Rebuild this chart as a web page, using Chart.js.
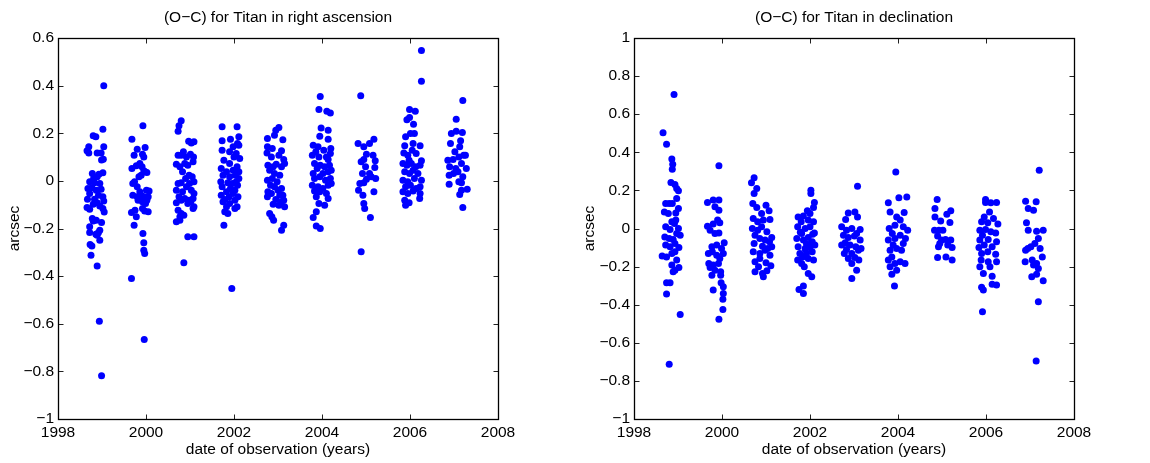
<!DOCTYPE html>
<html>
<head>
<meta charset="utf-8">
<script src="https://cdn.jsdelivr.net/npm/chart.js@4.4.1/dist/chart.umd.min.js"></script>
<style>
html,body{margin:0;padding:0;background:#fff;}
#wrap{display:flex;width:1150px;height:463px;}
.box{width:575px;height:463px;position:relative;}
</style>
</head>
<body>
<div id="wrap">
  <div class="box"><canvas id="ra" width="575" height="463"></canvas></div>
  <div class="box"><canvas id="dec" width="575" height="463"></canvas></div>
</div>
<script>
// ---- Titles / labels ----
const raTitle = "(O\u2212C) for Titan in right ascension";
const decTitle = "(O\u2212C) for Titan in declination";
const xLabel = "date of observation (years)";
const yLabel = "arcsec";

// ---- Tick labels ----
const yearTicks = [1998, 2000, 2002, 2004, 2006, 2008];
const raTicks = [-1, -0.8, -0.6, -0.4, -0.2, 0, 0.2, 0.4, 0.6];
const decTicks = [-1, -0.8, -0.6, -0.4, -0.2, 0, 0.2, 0.4, 0.6, 0.8, 1];

// ---- (O-C) in right ascension: [year, arcsec] ----
const raData = [
[1999.04,0.40],[1998.80,0.19],[1998.86,0.185],[1999.02,0.217],[1998.70,0.143],[1999.04,0.143],[1998.66,0.126],[1998.70,0.117],[1998.89,0.117],[1998.98,0.117],[1999.03,0.091],[1998.99,0.088],[1998.78,0.031],[1998.93,0.028],[1999.02,0.034],[1998.81,0.01],[1998.89,0.017],[1998.72,-0.004],[1998.83,-0.008],[1998.95,-0.011],[1998.68,-0.032],[1998.77,-0.029],[1998.87,-0.039],[1998.98,-0.035],[1998.72,-0.053],[1998.92,-0.06],[1999.02,-0.067],[1998.67,-0.077],[1998.83,-0.077],[1999.04,-0.084],[1998.89,-0.092],[1998.80,-0.098],[1998.95,-0.106],[1998.66,-0.112],[1998.72,-0.119],[1999.02,-0.116],[1999.05,-0.131],[1998.78,-0.158],[1998.87,-0.165],[1998.99,-0.175],[1998.80,-0.168],[1998.72,-0.193],[1998.95,-0.207],[1998.72,-0.217],[1998.92,-0.217],[1998.86,-0.224],[1998.89,-0.228],[1998.95,-0.249],[1998.73,-0.267],[1998.77,-0.273],[1998.75,-0.312],[1998.89,-0.357],[1998.94,-0.589],[1998.99,-0.818],
[1999.68,0.175],[1999.93,0.231],[1999.73,0.108],[1999.80,0.133],[1999.98,0.14],[1999.92,0.112],[1999.95,0.10],[1999.68,0.052],[1999.78,0.063],[1999.86,0.073],[1999.91,0.059],[1999.98,0.038],[2000.02,0.035],[1999.70,-0.011],[1999.74,-0.004],[1999.84,0.017],[1999.89,0.024],[1999.95,0.042],[1999.80,-0.025],[1999.86,-0.046],[2000.01,-0.039],[2000.07,-0.042],[1999.70,-0.06],[1999.80,-0.067],[1999.89,-0.06],[1999.95,-0.067],[2000.05,-0.067],[1999.82,-0.081],[1999.92,-0.088],[2000.02,-0.081],[1999.99,-0.095],[1999.67,-0.133],[1999.75,-0.123],[1999.78,-0.151],[1999.92,-0.116],[1999.97,-0.127],[2000.05,-0.13],[1999.73,-0.186],[1999.93,-0.221],[1999.95,-0.26],[1999.95,-0.291],[1999.97,-0.305],[1999.67,-0.41],[1999.96,-0.666],
[2000.80,0.252],[2000.75,0.231],[2000.73,0.208],[2000.97,0.166],[2001.09,0.164],[2001.03,0.159],[2000.85,0.122],[2000.73,0.108],[2000.92,0.10],[2000.80,0.108],[2001.01,0.112],[2001.08,0.10],[2000.69,0.07],[2000.77,0.059],[2000.88,0.073],[2000.95,0.066],[2001.07,0.08],[2000.83,0.038],[2000.98,0.024],[2001.05,0.017],[2000.90,0.01],[2001.09,-0.004],[2000.73,-0.011],[2000.80,-0.008],[2000.99,-0.011],[2000.92,-0.025],[2000.69,-0.039],[2000.83,-0.046],[2001.03,-0.039],[2001.09,-0.053],[2000.75,-0.067],[2000.88,-0.074],[2000.98,-0.081],[2000.80,-0.081],[2001.07,-0.074],[2000.69,-0.092],[2001.02,-0.088],[2000.95,-0.095],[2000.73,-0.123],[2000.80,-0.137],[2000.77,-0.151],[2000.86,-0.144],[2000.69,-0.172],[2000.77,-0.165],[2001.09,-0.109],[2001.07,-0.116],[2000.95,-0.235],[2001.09,-0.235],[2000.86,-0.344],
[2001.73,0.227],[2002.07,0.227],[2001.92,0.175],[2002.11,0.185],[2001.73,0.168],[2001.98,0.143],[2002.08,0.157],[2002.11,0.15],[2001.73,0.129],[2001.90,0.122],[2002.05,0.115],[2001.77,0.087],[2002.00,0.10],[2002.13,0.094],[2001.90,0.073],[2001.71,0.052],[2001.83,0.038],[2001.98,0.045],[2002.07,0.059],[2002.11,0.038],[2001.75,0.024],[2001.90,0.017],[2002.03,0.024],[2002.11,0.01],[2001.70,-0.004],[2001.86,-0.008],[2001.96,-0.011],[2002.08,-0.018],[2002.05,-0.004],[2001.73,-0.025],[2001.92,-0.032],[2002.02,-0.039],[2001.83,-0.046],[2001.71,-0.06],[2001.89,-0.067],[2001.98,-0.053],[2002.09,-0.067],[2001.79,-0.078],[2001.75,-0.088],[2002.02,-0.081],[2001.90,-0.095],[2002.07,-0.109],[2001.83,-0.109],[2001.86,-0.137],[2002.02,-0.116],[2001.79,-0.13],[2001.77,-0.186],[2001.95,-0.452],
[2002.76,0.178],[2002.92,0.192],[2003.02,0.224],[2002.95,0.213],[2003.11,0.173],[2002.76,0.143],[2002.87,0.136],[2003.08,0.126],[2002.75,0.117],[2002.85,0.10],[2003.02,0.108],[2003.13,0.09],[2003.15,0.073],[2002.77,0.066],[2002.89,0.059],[2002.96,0.07],[2003.08,0.059],[2002.81,0.045],[2002.92,0.031],[2003.04,0.024],[2002.76,0.003],[2002.98,-0.004],[2002.87,0.01],[2002.83,-0.018],[2002.92,-0.025],[2003.08,-0.032],[2003.00,-0.039],[2002.77,-0.046],[2002.85,-0.053],[2003.04,-0.06],[2003.11,-0.06],[2002.76,-0.067],[2002.95,-0.078],[2003.08,-0.088],[2002.89,-0.098],[2003.02,-0.102],[2003.15,-0.109],[2003.13,-0.081],[2002.81,-0.137],[2002.86,-0.151],[2002.90,-0.165],[2003.13,-0.186],[2003.08,-0.207],
[2003.96,0.354],[2003.93,0.30],[2004.11,0.292],[2004.19,0.285],[2003.98,0.222],[2004.14,0.213],[2003.95,0.187],[2004.14,0.175],[2003.80,0.15],[2003.91,0.143],[2004.04,0.129],[2004.20,0.136],[2003.86,0.122],[2003.78,0.108],[2003.93,0.10],[2004.10,0.10],[2004.19,0.115],[2004.14,0.09],[2003.83,0.073],[2003.96,0.066],[2004.06,0.059],[2004.17,0.066],[2003.89,0.052],[2003.80,0.031],[2004.02,0.031],[2004.14,0.038],[2004.21,0.045],[2003.83,0.01],[2003.95,0.017],[2004.08,0.003],[2004.19,0.01],[2003.78,-0.018],[2003.91,-0.025],[2004.02,-0.032],[2004.14,-0.018],[2004.21,-0.011],[2003.83,-0.042],[2003.95,-0.046],[2004.10,-0.053],[2003.87,-0.067],[2003.93,-0.095],[2004.06,-0.102],[2004.14,-0.074],[2003.87,-0.13],[2003.80,-0.154],[2003.87,-0.189],[2003.96,-0.20],
[2004.88,0.357],[2004.82,0.157],[2004.95,0.143],[2005.08,0.157],[2005.18,0.175],[2005.01,0.112],[2004.95,0.09],[2005.16,0.108],[2004.89,0.08],[2005.21,0.084],[2004.99,0.059],[2004.92,0.031],[2005.08,0.031],[2005.20,0.056],[2005.01,0.007],[2004.86,-0.011],[2004.95,-0.008],[2005.12,0.017],[2005.22,0.01],[2004.83,-0.039],[2004.93,-0.06],[2005.18,-0.046],[2004.95,-0.095],[2004.97,-0.116],[2005.10,-0.154],[2004.89,-0.298],
[2006.26,0.548],[2006.26,0.418],[2005.99,0.30],[2006.12,0.292],[2005.93,0.257],[2005.99,0.266],[2006.08,0.238],[2005.90,0.185],[2006.01,0.199],[2006.10,0.199],[2006.23,0.147],[2005.88,0.147],[2006.07,0.157],[2005.86,0.117],[2005.95,0.108],[2006.05,0.129],[2006.14,0.115],[2005.98,0.087],[2006.26,0.084],[2005.84,0.073],[2005.93,0.066],[2006.03,0.073],[2006.13,0.059],[2006.23,0.066],[2005.88,0.038],[2005.99,0.031],[2006.07,0.045],[2006.18,0.031],[2005.84,0.003],[2005.95,-0.004],[2006.10,0.01],[2006.26,0.003],[2005.90,-0.025],[2006.01,-0.018],[2006.14,-0.032],[2006.23,-0.025],[2005.84,-0.046],[2006.07,-0.042],[2005.95,-0.053],[2006.23,-0.053],[2005.88,-0.081],[2005.98,-0.092],[2005.90,-0.102],[2006.22,-0.074],
[2007.20,0.338],[2007.05,0.259],[2006.94,0.199],[2007.05,0.208],[2007.19,0.203],[2006.92,0.157],[2007.15,0.168],[2007.13,0.143],[2007.02,0.122],[2006.86,0.087],[2006.98,0.09],[2007.11,0.10],[2007.22,0.108],[2007.26,0.108],[2006.90,0.059],[2007.04,0.052],[2007.17,0.073],[2007.28,0.052],[2007.09,0.038],[2006.89,0.024],[2006.99,0.031],[2007.20,0.017],[2006.89,-0.014],[2007.11,-0.004],[2007.17,-0.008],[2007.30,-0.035],[2007.17,-0.039],[2007.13,-0.057],[2007.20,-0.112]
];

// ---- (O-C) in declination: [year, arcsec] ----
const decData = [
[1998.66,0.502],[1998.74,0.442],[1998.91,0.703],[1998.86,0.365],[1998.88,0.337],[1998.87,0.311],[1998.84,0.241],[1998.93,0.231],[1998.97,0.21],[1999.01,0.198],[1998.97,0.157],[1998.72,0.131],[1998.80,0.131],[1998.87,0.131],[1999.01,0.105],[1998.69,0.087],[1998.78,0.079],[1998.95,0.082],[1998.86,0.035],[1998.95,0.044],[1998.72,0.009],[1998.82,-0.005],[1999.01,0],[1998.92,0.026],[1998.70,-0.044],[1998.80,-0.052],[1998.89,-0.058],[1999.05,-0.035],[1998.97,-0.026],[1998.72,-0.087],[1998.82,-0.096],[1998.93,-0.079],[1999.02,-0.10],[1998.64,-0.145],[1998.74,-0.149],[1998.86,-0.131],[1998.93,-0.122],[1998.97,-0.166],[1998.86,-0.192],[1998.93,-0.219],[1999.02,-0.205],[1998.89,-0.227],[1998.74,-0.285],[1998.82,-0.285],[1998.74,-0.344],[1999.05,-0.451],[1998.80,-0.713],
[1999.93,0.329],[1999.67,0.136],[1999.80,0.149],[1999.93,0.149],[1999.84,0.114],[1999.93,0.096],[1999.67,0.012],[1999.80,0.023],[1999.90,0.044],[1999.95,0.03],[1999.73,-0.009],[1999.84,-0.026],[1999.93,-0.023],[2000.05,-0.075],[1999.77,-0.096],[1999.88,-0.087],[1999.99,-0.105],[1999.69,-0.131],[1999.78,-0.122],[1999.88,-0.14],[2000.03,-0.131],[1999.95,-0.157],[1999.70,-0.184],[1999.80,-0.192],[1999.92,-0.184],[1999.73,-0.205],[1999.84,-0.219],[1999.77,-0.245],[1999.97,-0.227],[1999.97,-0.245],[1999.98,-0.285],[2000.03,-0.306],[2000.03,-0.341],[1999.80,-0.323],[2000.02,-0.372],[2000.02,-0.425],[1999.93,-0.477],
[2000.73,0.267],[2000.67,0.24],[2000.79,0.21],[2000.73,0.184],[2000.70,0.131],[2000.79,0.11],[2001.00,0.122],[2000.90,0.079],[2001.07,0.093],[2000.71,0.052],[2000.81,0.035],[2000.94,0.044],[2001.09,0.047],[2000.69,0],[2000.81,-0.009],[2000.90,0.009],[2001.02,-0.017],[2001.13,-0.047],[2000.75,-0.035],[2000.86,-0.052],[2000.98,-0.061],[2001.08,-0.07],[2000.73,-0.079],[2000.92,-0.093],[2001.04,-0.105],[2001.13,-0.096],[2000.71,-0.122],[2000.86,-0.131],[2000.98,-0.114],[2001.09,-0.14],[2000.86,-0.157],[2001.00,-0.18],[2001.11,-0.196],[2000.75,-0.175],[2000.83,-0.201],[2000.92,-0.236],[2000.75,-0.227],[2000.94,-0.253],[2001.02,-0.222],
[2002.02,0.201],[2002.02,0.184],[2002.10,0.136],[2002.08,0.11],[2001.94,0.093],[2002.00,0.079],[2001.73,0.061],[2001.85,0.065],[2001.96,0.044],[2002.08,0.035],[2001.80,0.035],[2001.72,0.009],[2001.89,0],[2002.00,0.009],[2002.10,-0.023],[2001.81,-0.026],[2001.70,-0.052],[2001.85,-0.061],[2001.96,-0.047],[2002.05,-0.07],[2002.11,-0.087],[2001.73,-0.096],[2001.89,-0.105],[2002.00,-0.096],[2001.77,-0.131],[2001.92,-0.131],[2002.05,-0.122],[2001.72,-0.166],[2001.81,-0.184],[2001.96,-0.157],[2002.08,-0.166],[2001.87,-0.201],[2001.96,-0.236],[2002.04,-0.253],[2001.75,-0.32],[2001.85,-0.302],[2001.85,-0.341],[2001.78,-0.02],[2001.92,-0.08],[2001.83,-0.15],[2002.06,-0.03],[2001.90,-0.11],
[2003.08,0.222],[2002.87,0.082],[2003.02,0.086],[2003.08,0.061],[2002.81,0.047],[2002.72,0.009],[2002.83,-0.009],[2002.95,0],[2003.14,-0.005],[2003.06,-0.026],[2002.76,-0.035],[2002.87,-0.047],[2003.01,-0.04],[2003.14,-0.061],[2002.80,-0.075],[2002.72,-0.087],[2002.91,-0.087],[2003.04,-0.096],[2003.16,-0.105],[2002.83,-0.11],[2002.78,-0.131],[2002.95,-0.131],[2003.10,-0.114],[2002.87,-0.157],[2003.02,-0.152],[2003.11,-0.166],[2002.95,-0.184],[2003.06,-0.219],[2002.95,-0.262],
[2003.95,0.297],[2004.02,0.161],[2004.20,0.166],[2003.78,0.135],[2003.82,0.087],[2003.97,0.061],[2004.14,0.084],[2004.05,0.044],[2003.80,0],[2003.93,0.017],[2004.12,0.009],[2004.22,-0.009],[2003.87,-0.026],[2003.78,-0.061],[2003.93,-0.052],[2004.05,-0.035],[2004.17,-0.052],[2004.12,-0.079],[2003.89,-0.087],[2003.82,-0.114],[2003.97,-0.105],[2004.08,-0.114],[2003.86,-0.149],[2003.78,-0.166],[2003.93,-0.184],[2004.05,-0.175],[2004.16,-0.184],[2003.82,-0.201],[2003.97,-0.219],[2003.86,-0.24],[2003.92,-0.302],
[2004.89,0.152],[2004.84,0.105],[2005.11,0.075],[2005.20,0.093],[2004.97,0.04],[2005.18,0.031],[2004.84,0.061],[2004.83,-0.009],[2004.93,-0.009],[2005.02,-0.009],[2004.90,-0.04],[2004.99,-0.061],[2005.08,-0.058],[2005.20,-0.061],[2004.92,-0.096],[2005.13,-0.087],[2005.23,-0.10],[2004.95,-0.079],[2004.90,-0.152],[2005.09,-0.149],[2005.23,-0.166],
[2005.99,0.152],[2005.99,0.136],[2006.11,0.135],[2006.24,0.136],[2006.08,0.087],[2005.96,0.061],[2006.17,0.052],[2005.90,0.035],[2006.04,0.03],[2006.27,0.023],[2005.86,-0.009],[2005.99,-0.005],[2006.11,-0.017],[2006.22,-0.023],[2005.92,-0.035],[2005.86,-0.061],[2006.05,-0.058],[2006.24,-0.07],[2005.96,-0.087],[2006.14,-0.096],[2005.84,-0.10],[2005.90,-0.131],[2006.04,-0.122],[2006.22,-0.135],[2005.89,-0.166],[2006.05,-0.175],[2006.24,-0.175],[2005.86,-0.201],[2006.09,-0.201],[2005.94,-0.236],[2006.14,-0.25],[2005.90,-0.309],[2005.94,-0.323],[2006.14,-0.292],[2006.24,-0.297],[2005.92,-0.437],
[2006.90,0.143],[2007.14,0.14],[2006.96,0.105],[2007.08,0.096],[2006.92,0.03],[2006.96,-0.009],[2007.15,-0.014],[2007.30,-0.009],[2007.02,-0.096],[2006.90,-0.114],[2006.95,-0.105],[2007.19,-0.052],[2007.23,-0.105],[2007.11,-0.079],[2006.89,-0.175],[2007.05,-0.166],[2007.15,-0.184],[2007.28,-0.149],[2007.08,-0.192],[2007.19,-0.21],[2007.15,-0.24],[2007.04,-0.253],[2007.30,-0.274],[2007.19,-0.385],[2007.21,0.306],[2007.14,-0.696]
];

const FONT = "'Liberation Sans', Arial, Helvetica, sans-serif";
const FS = 15.5;

function fmtY(v){
  const r = Math.round(v * 10) / 10;
  if (r === 0) return "0";
  return (r < 0 ? "\u2212" : "") + String(Math.abs(r));
}

// Frame + inward MATLAB-style tick marks drawn from the library's scales
const framePlugin = {
  id: 'frame',
  afterDatasetsDraw(chart){
    const ctx = chart.ctx;
    const a = chart.chartArea;
    const xs = chart.scales.x, ys = chart.scales.y;
    const L = Math.round(a.left) + 0.5, R = Math.round(a.right) + 0.5;
    const T = Math.round(a.top) + 0.5, B = Math.round(a.bottom) + 0.5;
    const len = 5;
    ctx.save();
    ctx.strokeStyle = '#222';
    ctx.lineWidth = 1;
    ctx.beginPath();
    xs.ticks.forEach(t => {
      const p = Math.round(xs.getPixelForValue(t.value)) + 0.5;
      ctx.moveTo(p, B); ctx.lineTo(p, B - len);
      ctx.moveTo(p, T); ctx.lineTo(p, T + len);
    });
    ys.ticks.forEach(t => {
      const p = Math.round(ys.getPixelForValue(t.value)) + 0.5;
      ctx.moveTo(L, p); ctx.lineTo(L + len, p);
      ctx.moveTo(R, p); ctx.lineTo(R - len, p);
    });
    ctx.stroke();
    ctx.strokeStyle = '#000';
    ctx.lineWidth = 1.3;
    ctx.strokeRect(L, T, R - L, B - T);
    ctx.restore();
  }
};

function makeChart(id, title, data, yTicks, yMin, yMax, yWidth, padRight){
  return new Chart(document.getElementById(id), {
    type: 'scatter',
    data: {
      datasets: [{
        data: data.map(p => ({x: p[0], y: p[1]})),
        backgroundColor: '#0000ff',
        borderColor: '#0000ff',
        borderWidth: 0,
        pointRadius: 3.5,
        pointHoverRadius: 3.5
      }]
    },
    options: {
      responsive: false,
      animation: false,
      events: [],
      layout: { padding: { left: 0, right: padRight, top: 0, bottom: 0 } },
      plugins: {
        legend: { display: false },
        tooltip: { enabled: false },
        title: {
          display: true,
          text: title,
          fullSize: false,
          color: '#000',
          font: { family: FONT, size: FS, weight: 'normal', lineHeight: 1.2 },
          padding: { top: 8.7, bottom: 10.7 }
        }
      },
      scales: {
        x: {
          type: 'linear',
          min: 1998, max: 2008,
          afterBuildTicks: s => { s.ticks = yearTicks.map(v => ({value: v})); },
          afterFit: s => { s.height = 44; },
          grid: { display: false, drawTicks: false },
          border: { display: false },
          ticks: {
            color: '#000', padding: 4, maxRotation: 0, autoSkip: false,
            font: { family: FONT, size: FS, lineHeight: 1.2 },
            callback: v => String(v)
          },
          title: {
            display: true, text: xLabel, color: '#000',
            font: { family: FONT, size: FS, lineHeight: 1.2 },
            padding: { top: 0, bottom: 3.7 }
          }
        },
        y: {
          type: 'linear',
          min: yMin, max: yMax,
          afterBuildTicks: s => { s.ticks = yTicks.map(v => ({value: v})); },
          afterFit: s => { s.width = yWidth; },
          grid: { display: false, drawTicks: false },
          border: { display: false },
          ticks: {
            color: '#000', padding: 4, autoSkip: false,
            font: { family: FONT, size: FS, lineHeight: 1.2 },
            callback: v => fmtY(v)
          },
          title: {
            display: true, text: yLabel, color: '#000',
            font: { family: FONT, size: FS, lineHeight: 1.2 },
            padding: { top: 5.7, bottom: 0 }
          }
        }
      }
    },
    plugins: [framePlugin]
  });
}

makeChart('ra', raTitle, raData, raTicks, -1, 0.6, 58, 77);
makeChart('dec', decTitle, decData, decTicks, -1, 1, 59, 76);
</script>
</body>
</html>
